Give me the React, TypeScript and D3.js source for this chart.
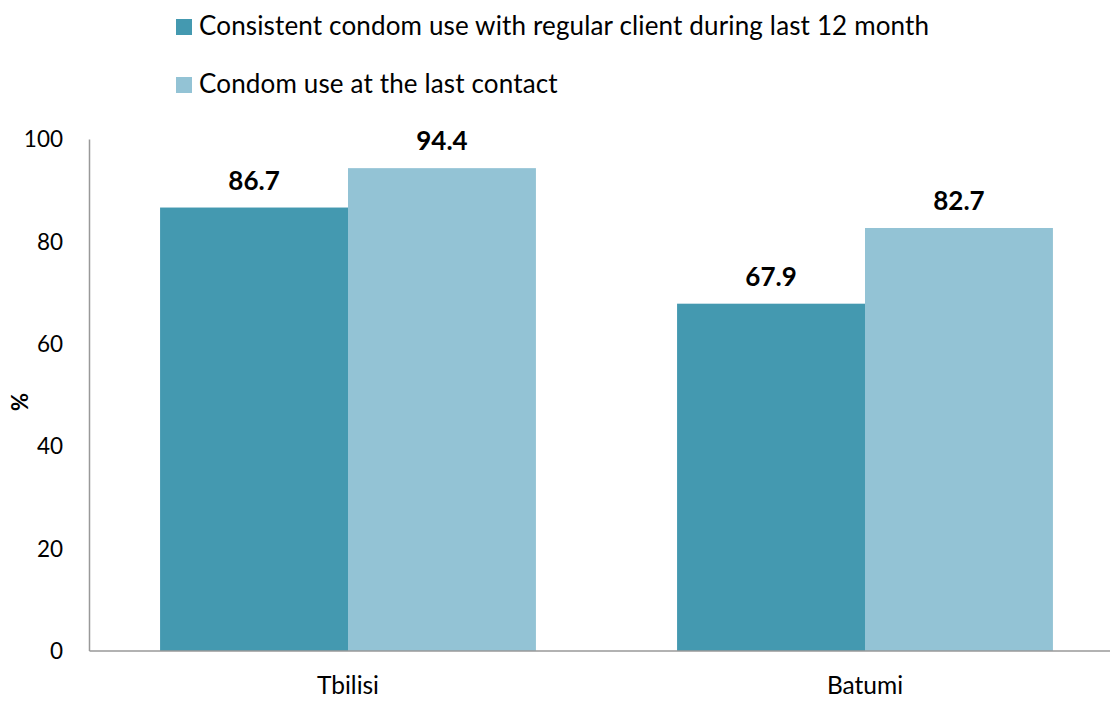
import React from "react";
import * as d3 from "d3";

const categories = ["Tbilisi", "Batumi"];
const seriesNames = [
  "Consistent condom use with regular client during last 12 month",
  "Condom use at the last contact",
];
const consistentUse = [86.7, 67.9];
const lastContact = [94.4, 82.7];
const yTicks = [0, 20, 40, 60, 80, 100];
const colors = ["#4499B0", "#93C3D5"];

const FONT = "Lato, 'Open Sans', sans-serif";

export default function App() {
  const W = 1110, H = 701;
  const x0 = 89.5, x1 = 1123.5;
  const y = d3.scaleLinear().domain([0, 100]).range([651, 139.5]);
  const xb = d3.scaleBand<string>().domain(categories).range([x0, x1]).paddingInner(0.273).paddingOuter(0.1365);
  const xs = d3.scaleBand<number>().domain([0, 1]).range([0, xb.bandwidth()]);
  const series = [consistentUse, lastContact];
  return (
    <svg width={W} height={H} style={{ position: "absolute", left: 0, top: 0 }} fontFamily={FONT}>
      <rect width={W} height={H} fill="#fff" />
      {seriesNames.map((s, i) => (
        <g key={s}>
          <rect x={176} y={19 + i * 58} width={16} height={16} fill={colors[i]} />
          <text x={199} y={35 + i * 58} fontSize={26} letterSpacing={0.15} fill="#000">{s}</text>
        </g>
      ))}
      {series.map((vals, si) =>
        vals.map((v, ci) => {
          const bx = (xb(categories[ci]) ?? 0) + (xs(si) ?? 0);
          return (
            <g key={`${si}-${ci}`}>
              <rect x={bx} y={y(v)} width={xs.bandwidth()} height={y(0) - y(v)} fill={colors[si]} />
              <text x={bx + xs.bandwidth() / 2} y={y(v) - 18} textAnchor="middle" fontSize={26} fontWeight="bold" fill="#000">
                {v.toFixed(1)}
              </text>
            </g>
          );
        })
      )}
      <line x1={x0} x2={x0} y1={y(100)} y2={y(0)} stroke="#999" strokeWidth={1.5} />
      <line x1={x0} x2={W} y1={y(0)} y2={y(0)} stroke="#999" strokeWidth={1.5} />
      {yTicks.map((t) => (
        <text key={t} x={63} y={y(t)} dy="0.35em" textAnchor="end" fontSize={22.5} fill="#000">{t}</text>
      ))}
      {categories.map((c) => (
        <text key={c} x={(xb(c) ?? 0) + xb.bandwidth() / 2} y={694} textAnchor="middle" fontSize={24.5} fill="#000">{c}</text>
      ))}
      <text transform="translate(28,402) rotate(-90)" textAnchor="middle" fontSize={22} fontWeight="bold" fill="#000">%</text>
    </svg>
  );
}
